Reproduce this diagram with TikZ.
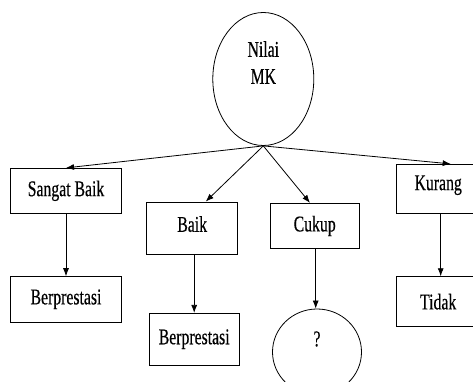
\documentclass[tikz,border=0pt]{standalone}
\usepackage{fontspec}
\setmainfont{Liberation Serif}
\newfontfamily\boxfont[FakeStretch=0.70,FakeBold=0.4]{Liberation Serif}
\usepackage{tikz}
\usetikzlibrary{arrows.meta, positioning, shapes.geometric}

\begin{document}
\begin{tikzpicture}[x=1pt,y=1pt,
  every node/.style={font=\boxfont\fontsize{22.5}{27}\selectfont},
  kotak/.style={draw,rectangle,line width=0.8pt,minimum width=#1,inner sep=0pt},
  bulat/.style={draw,ellipse,line width=0.8pt,inner sep=0pt},
  panah/.style={line width=0.8pt,-{Latex[length=8pt,width=6pt]}}]
\useasboundingbox (0,0) rectangle (473,382);
% akar
\node [bulat,minimum width=101pt,minimum height=133pt] (mk) at (263.3,303) {};
\node [align=center] (mktxt) at (263.3,319.5) {Nilai\\MK};
% cabang
\node [kotak=110.6pt,minimum height=45pt] (sb) at (66,191.2) {Sangat Baik};
\node [kotak=110.6pt,minimum height=45.3pt] (b1) at (66,82.7) {Berprestasi};
\node [kotak=91pt,minimum height=52pt,text depth=8pt] (baik) at (192.2,154) {Baik};
\node [kotak=90.3pt,minimum height=51.7pt] (b2) at (194.2,42.8) {Berprestasi};
\node [kotak=88.7pt,minimum height=45.4pt] (cukup) at (314.7,156) {Cukup};
\node [bulat,minimum width=89pt,minimum height=86pt] (q) at (317,30) {};
\node (qtxt) at (317,43) {?};
\node [kotak=83.7pt,minimum height=49pt,text depth=12pt] (kurang) at (438.2,193.2) {Kurang};
\node [kotak=83.7pt,minimum height=50pt] (tidak) at (438.2,80.3) {Tidak};
\draw[panah] (mk.south)--(sb.north);
\draw[panah] (mk.south)--([xshift=13.5pt]baik.north);
\draw[panah] (mk.south)--([xshift=-4.7pt]cukup.north);
\draw[panah] (mk.south)--([xshift=12.5pt]kurang.north);
\draw[panah] (sb.south)--(b1.north);
\draw[panah] (b2.north|-baik.south)--(b2.north);
\draw[panah] ([xshift=1pt]cukup.south)--([xshift=1pt]cukup.south|-q.north);
\draw[panah] ([xshift=2.5pt]kurang.south)--([xshift=2.5pt]tidak.north);
\end{tikzpicture}
\end{document}
